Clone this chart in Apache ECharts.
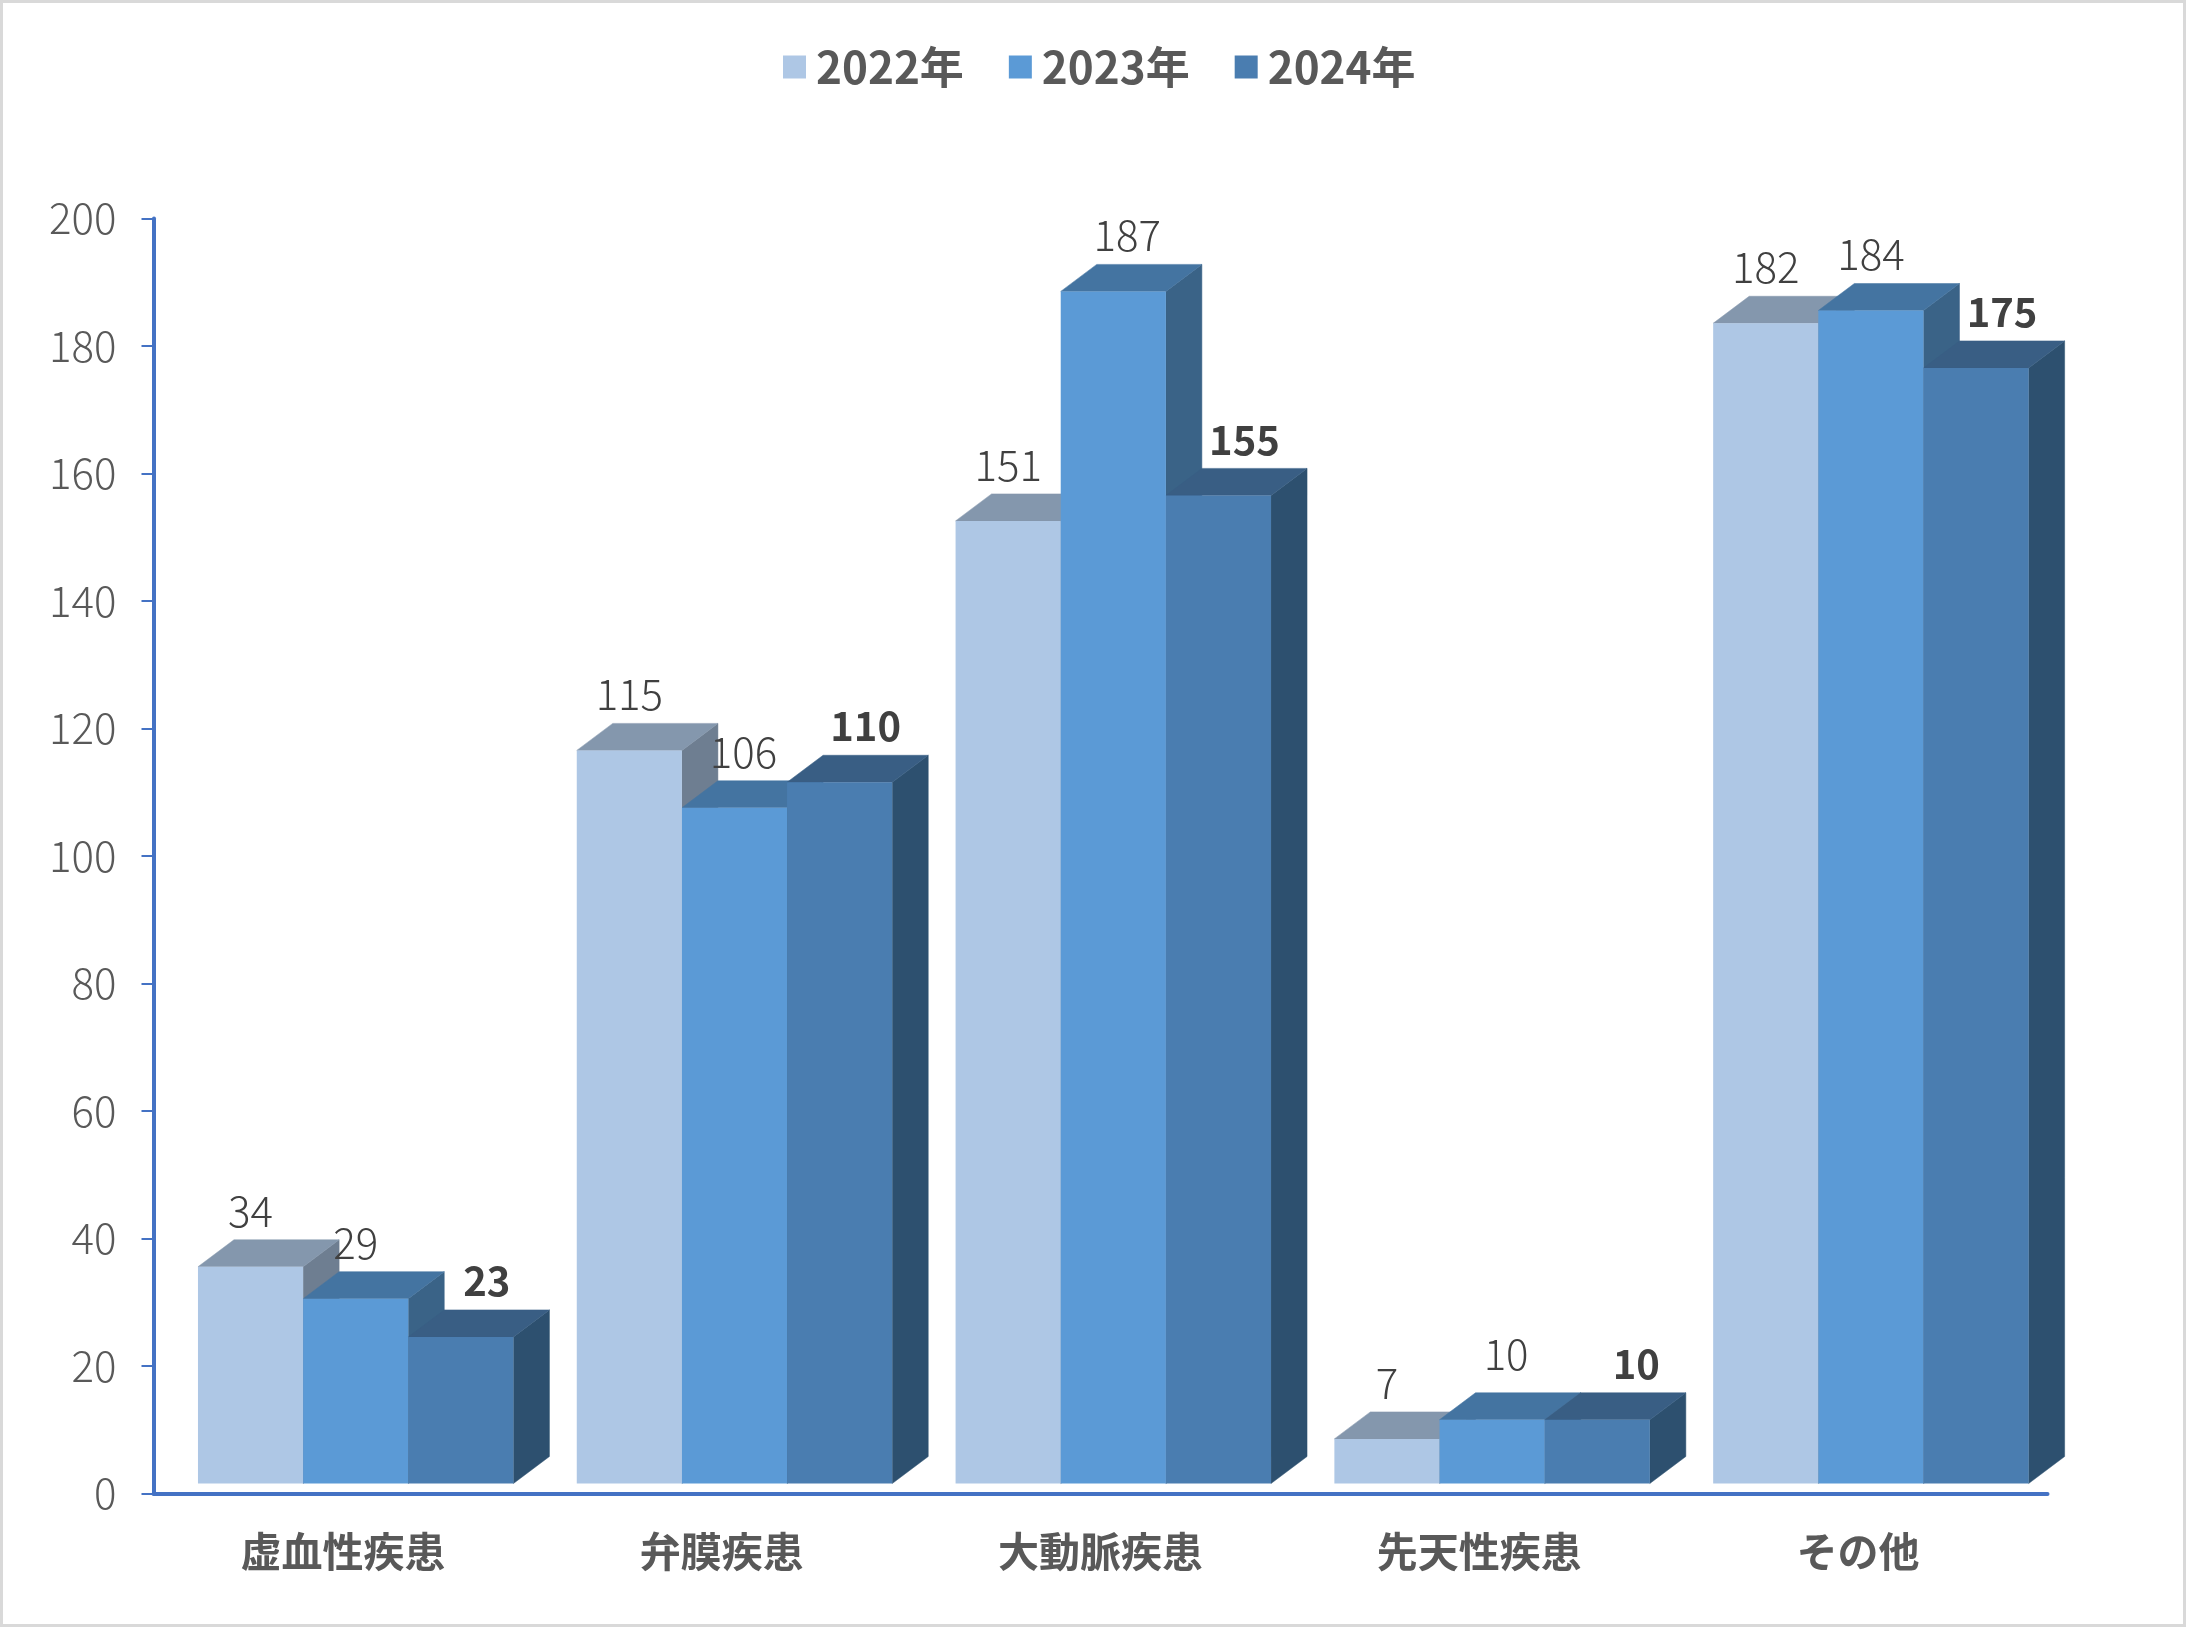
<!DOCTYPE html>
<html>
<head>
<meta charset="utf-8">
<style>html,body{margin:0;padding:0;background:#fff}#c{width:2186px;height:1627px}</style>
<script src="https://cdn.jsdelivr.net/npm/echarts@6/dist/echarts.min.js"></script>
</head>
<body>
<div id="c"></div>
<script>
const categories = ['虚血性疾患', '弁膜疾患', '大動脈疾患', '先天性疾患', 'その他'];
const seriesNames = ['2022年', '2023年', '2024年'];
const values2022 = [34, 115, 151, 7, 182];
const values2023 = [29, 106, 187, 10, 184];
const values2024 = [23, 110, 155, 10, 175];
const yTicks = { min: 0, max: 200, interval: 20 };

const frontColors = ['#AEC7E5', '#5B9AD6', '#4A7DB0'];
const topColors = ['#8497AD', '#4474A1', '#395E84'];
const sideColors = ['#6E7E91', '#3A6387', '#2D506F'];
const labelNudgeX = [[0, 0, 0, 0, 0], [0, 9, 14, 14, 0], [26, 26, 26, 39, 26]];
const labelNudgeY = [[0, 0, 0, 0, 0], [0, 0, 0, -10, 0], [0, 0, 0, 0, 0]];
const FONT = '"Noto Sans CJK JP"';
const allValues = [values2022, values2023, values2024];

function makeSeries(si) {
  return {
    type: 'custom',
    name: seriesNames[si],
    coordinateSystem: 'cartesian2d',
    clip: false,
    itemStyle: { color: frontColors[si] },
    encode: { x: 0, y: 1 },
    data: allValues[si].map((v, i) => [i, v]),
    renderItem(params, api) {
      const cat = api.value(0), val = api.value(1);
      const band = api.size([1, 0])[0];
      const w = band * 0.2776, lift = 10, dx = 36, dy = 27;
      const c0 = api.coord([cat, 0]), c1 = api.coord([cat, val]);
      const x0 = c0[0] - band * 0.3826 + si * w, x1 = x0 + w;
      const yb = c0[1] - lift, yt = c1[1] - lift;
      const poly = (pts, fill, z2) => ({ type: 'polygon', z2, shape: { points: pts }, style: { fill, stroke: fill, lineWidth: 0.5 } });
      return {
        type: 'group',
        children: [
          poly([[x1, yb], [x1 + dx, yb - dy], [x1 + dx, yt - dy], [x1, yt]], sideColors[si], 1),
          poly([[x0, yt], [x0 + dx, yt - dy], [x1 + dx, yt - dy], [x1, yt]], topColors[si], 1),
          { type: 'rect', z2: 2, shape: { x: x0, y: yt, width: w, height: yb - yt }, style: { fill: frontColors[si] } },
          {
            type: 'text', z2: 100,
            style: {
              text: String(val),
              x: (x0 + x1) / 2 + labelNudgeX[si][cat],
              y: yt - dy - 29 + labelNudgeY[si][cat],
              align: 'center', verticalAlign: 'middle',
              fill: '#404040',
              font: si === 2 ? 'bold 40px ' + FONT : '300 42px ' + FONT
            }
          }
        ]
      };
    }
  };
}

const chart = echarts.init(document.getElementById('c'));
chart.setOption({
  animation: false,
  backgroundColor: '#fff',
  textStyle: { fontFamily: FONT },
  graphic: [{
    type: 'rect', silent: true, z: -1,
    shape: { x: 1.5, y: 1.5, width: 2183, height: 1624 },
    style: { fill: 'none', stroke: '#D9D9D9', lineWidth: 3 }
  }],
  legend: {
    left: 778, top: 40, itemWidth: 23, itemHeight: 23, itemGap: 45, icon: 'rect',
    data: seriesNames.map((n, i) => ({ name: n, itemStyle: { color: frontColors[i] } })),
    textStyle: { fontFamily: FONT, fontSize: 44, fontWeight: 'bold', color: '#595959', padding: [0, 0, 0, 5] }
  },
  grid: { left: 153.5, right: 138.5, top: 218.5, bottom: 133.5, containLabel: false },
  xAxis: {
    type: 'category', data: categories,
    axisTick: { show: false },
    axisLine: { lineStyle: { color: '#4472C4', width: 4, cap: 'round' } },
    axisLabel: { fontFamily: FONT, fontSize: 41, fontWeight: 'bold', color: '#595959', margin: 37 }
  },
  yAxis: {
    type: 'value', min: yTicks.min, max: yTicks.max, interval: yTicks.interval,
    splitLine: { show: false },
    axisLine: { show: true, lineStyle: { color: '#4472C4', width: 4 } },
    axisTick: { show: true, length: 12, lineStyle: { color: '#4472C4', width: 2 } },
    axisLabel: { fontFamily: FONT, fontSize: 42, fontWeight: 300, color: '#595959', margin: 37 }
  },
  series: [makeSeries(0), makeSeries(1), makeSeries(2)]
});
</script>
</body>
</html>
